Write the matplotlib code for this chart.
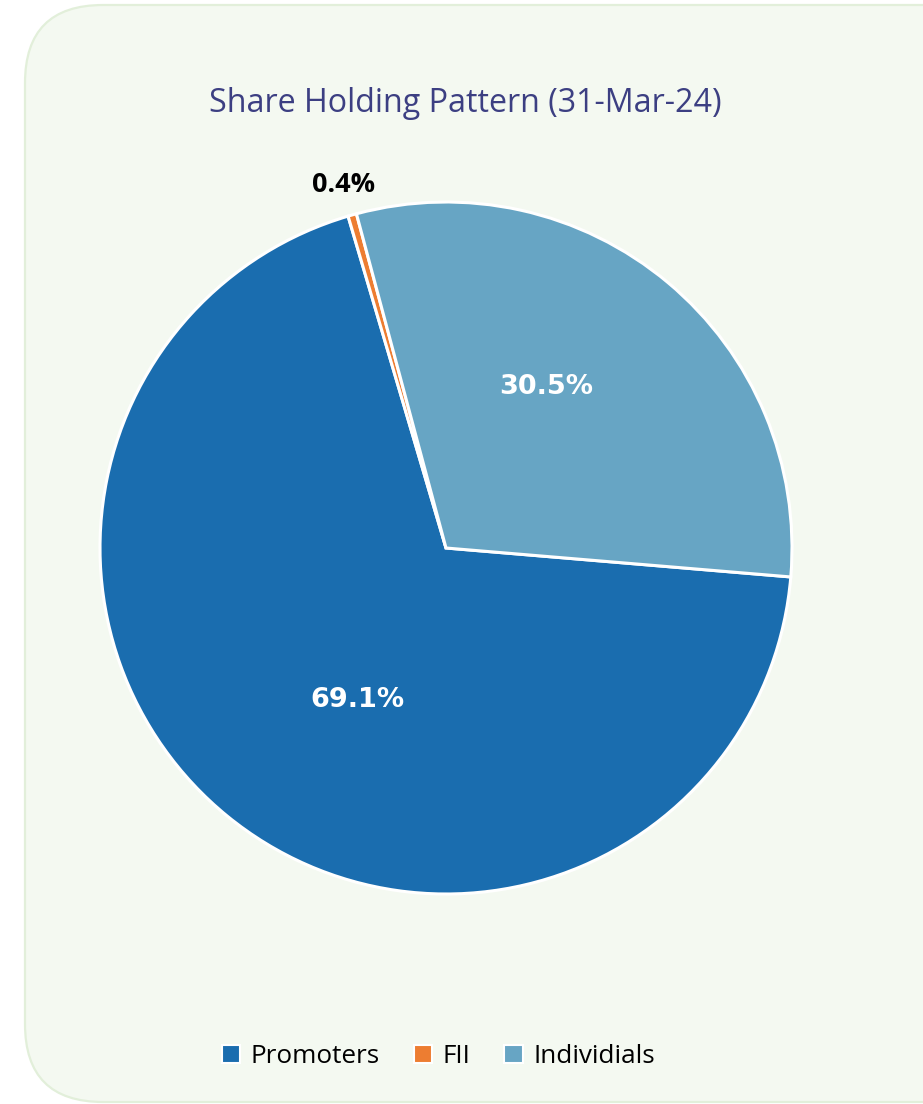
import matplotlib.pyplot as plt
from matplotlib.patches import FancyBboxPatch, Patch
import numpy as np

labels = ['Promoters', 'FII', 'Individials']
shares = [69.1, 0.4, 30.5]
colors = ['#1A6DAF', '#ED7D31', '#67A5C4']
title = 'Share Holding Pattern (31-Mar-24)'

W, H = 923, 1104
fig = plt.figure(figsize=(W / 100, H / 100), dpi=100)
fig.patch.set_facecolor('white')

# panel background in pixel units
bg = fig.add_axes([0, 0, 1, 1])
bg.set_xlim(0, W)
bg.set_ylim(H, 0)
bg.axis('off')
bg.add_patch(FancyBboxPatch((25, 5), 1100, 1097,
                            boxstyle='round,pad=0,rounding_size=78',
                            facecolor='#F4F9F1', edgecolor='#E2EFDA', linewidth=1.6))

bg.text(465, 104, title, ha='center', va='center', fontsize=23.2,
        family='Open Sans', color='#3C3F82')

# pie
cx, cy, r = 446, 548, 346
ax = fig.add_axes([(cx - r) / W, (H - cy - r) / H, 2 * r / W, 2 * r / H])
wedges, _ = ax.pie(shares, colors=colors, startangle=-4.8, counterclock=False,
                   radius=1, wedgeprops=dict(edgecolor='white', linewidth=2.2))
ax.set_xlim(-1, 1)
ax.set_ylim(-1, 1)
ax.set_aspect('equal')
ax.axis('off')

# data labels
label_pos = {'Promoters': (-0.255, -0.44), 'Individials': (0.29, 0.465)}
for w, lab, v in zip(wedges, labels, shares):
    if lab in label_pos:
        x, y = label_pos[lab]
        ax.text(x, y, f'{v}%', ha='center', va='center', color='white',
                fontsize=19.5, fontweight='bold', family='DejaVu Sans')
    else:
        mid = np.deg2rad((w.theta1 + w.theta2) / 2)
        ax.text(1.09 * np.cos(mid), 1.09 * np.sin(mid), f'{v}%', ha='center',
                va='center', color='black', fontsize=19.5, fontweight='bold',
                family='Open Sans')

handles = [Patch(facecolor=c, edgecolor='white', linewidth=1.5) for c in colors]
fig.legend(handles, labels, loc='center', bbox_to_anchor=(0.475, 0.043), ncol=3,
           frameon=False, prop={'family': 'Open Sans', 'size': 18.8},
           handlelength=0.7, handleheight=0.7, handletextpad=0.4, columnspacing=1.3)

fig.savefig('out.png', dpi=100)
